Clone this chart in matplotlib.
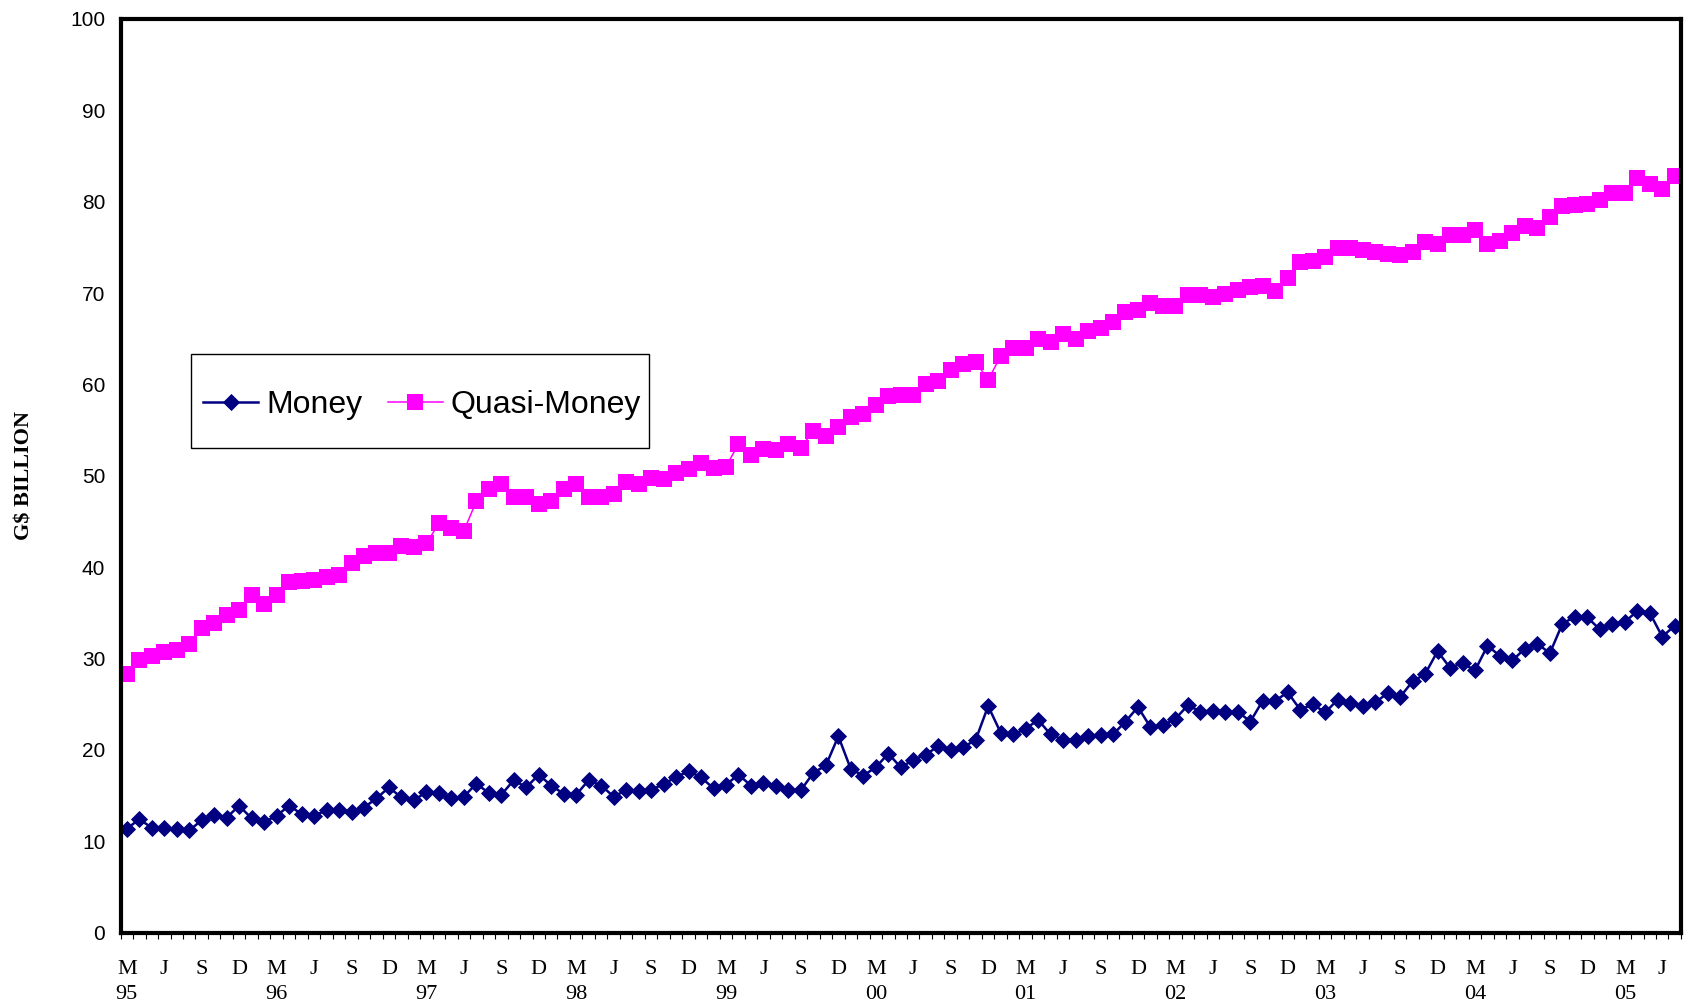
import numpy as np
import pandas as pd
import matplotlib
matplotlib.use("Agg")
import matplotlib.pyplot as plt
import matplotlib.patches as patches

#monthly data, March 1995 to July 2005 (G$ billion)
months = pd.period_range("1995-03", "2005-07", freq="M")

money = [11.4, 12.4, 11.5, 11.5, 11.3, 11.2, 12.3, 12.9, 12.6, 13.9,
         12.5, 12.1, 12.8, 13.9, 13.0, 12.8, 13.4, 13.4, 13.2, 13.7, 14.7, 15.9,
         14.8, 14.5, 15.4, 15.3, 14.7, 14.9, 16.3, 15.3, 15.1, 16.7, 15.9, 17.3,
         16.1, 15.2, 15.1, 16.7, 16.1, 14.9, 15.6, 15.5, 15.6, 16.3, 17.0, 17.7,
         17.0, 15.8, 16.2, 17.3, 16.1, 16.4, 16.1, 15.6, 15.6, 17.5, 18.3, 21.5,
         17.9, 17.2, 18.1, 19.6, 18.1, 18.9, 19.5, 20.4, 20.0, 20.3, 21.1, 24.8,
         21.9, 21.7, 22.3, 23.3, 21.7, 21.1, 21.1, 21.5, 21.6, 21.7, 23.1, 24.7,
         22.5, 22.7, 23.4, 24.9, 24.2, 24.3, 24.2, 24.2, 23.1, 25.4, 25.4, 26.3,
         24.4, 25.0, 24.1, 25.5, 25.1, 24.8, 25.2, 26.2, 25.8, 27.5, 28.3, 30.8,
         29.0, 29.5, 28.7, 31.4, 30.3, 29.8, 31.1, 31.6, 30.6, 33.8, 34.6, 34.5,
         33.2, 33.8, 34.0, 35.2, 35.0, 32.4, 33.6]

quasi_money = [28.3, 29.8, 30.3, 30.7, 30.9, 31.6, 33.3, 33.9, 34.8, 35.3,
               37.0, 36.0, 37.0, 38.4, 38.5, 38.6, 38.9, 39.1, 40.5, 41.2, 41.5, 41.5,
               42.3, 42.2, 42.6, 44.8, 44.3, 44.0, 47.2, 48.6, 49.1, 47.7, 47.7, 46.9,
               47.2, 48.6, 49.1, 47.7, 47.7, 48.0, 49.3, 49.1, 49.8, 49.6, 50.3, 50.8,
               51.4, 50.9, 51.0, 53.5, 52.3, 52.9, 52.8, 53.5, 53.1, 54.9, 54.4, 55.3,
               56.4, 56.8, 57.8, 58.7, 58.9, 58.9, 60.0, 60.4, 61.6, 62.2, 62.5, 60.5,
               63.1, 64.0, 64.0, 65.0, 64.6, 65.5, 65.0, 65.9, 66.2, 66.8, 67.9, 68.2,
               68.9, 68.6, 68.6, 69.8, 69.8, 69.6, 69.9, 70.3, 70.7, 70.8, 70.2, 71.7,
               73.4, 73.5, 73.9, 74.9, 74.95, 74.7, 74.5, 74.3, 74.2, 74.5, 75.6, 75.4,
               76.4, 76.4, 76.9, 75.4, 75.7, 76.6, 77.3, 77.1, 78.3, 79.5, 79.6, 79.8,
               80.2, 81.0, 80.9, 82.6, 81.9, 81.4, 82.8]

#quarter letters shown under the axis
quarter_letters = {3: "M", 6: "J", 9: "S", 12: "D"}

yticks = list(range(0, 101, 10))

SERIF = ["Liberation Serif", "DejaVu Serif"]
SANS = ["Liberation Sans", "DejaVu Sans"]

fig = plt.figure(figsize=(16.84, 10.08), dpi=100)
ax = fig.add_axes([0.0716, 0.0747, 0.9266, 0.9065])

x = np.arange(len(months))
ax.plot(x, money, color="#000080", lw=1.8, marker="D", ms=8.5,
        mec="#000080", mew=0.6, label="Money")
ax.plot(x, quasi_money, color="#FF00FF", lw=1.1, marker="s", ms=11,
        mec="#FF00FF", mew=0, label="Quasi-Money")

ax.set_xlim(-0.5, len(months) - 0.5)
ax.set_ylim(0, 100)

#labels at every quarter, year under March
tick_pos = []
tick_lab = []
for i, p in enumerate(months):
    if p.month in quarter_letters:
        tick_pos.append(i)
        if p.month == 3:
            tick_lab.append("M\n%02d" % (p.year % 100))
        else:
            tick_lab.append(quarter_letters[p.month])
ax.set_xticks(tick_pos)
ax.set_xticklabels(tick_lab, fontfamily=SERIF, fontsize=16, linespacing=1.45)
ax.set_xticks(np.arange(-0.5, len(months), 1.0), minor=True)
ax.tick_params(axis="x", which="major", length=0, pad=19.5)
ax.tick_params(axis="x", which="minor", length=4, width=0.8, direction="out")

ax.set_yticks(yticks)
ax.set_yticklabels([str(v) for v in yticks], fontfamily=SANS, fontsize=15)
ax.tick_params(axis="y", length=0, pad=11)

for s in ax.spines.values():
    s.set_linewidth(3.0)
    s.set_color("black")

fig.text(24.5 / 1684, 1 - 476 / 1008, "G$ BILLION", rotation=90, ha="center",
         va="center", fontfamily=SERIF, fontsize=16, fontweight="bold")

#legend without its own frame, box drawn by hand
leg = ax.legend(loc="center", bbox_to_anchor=(422 / 1684, 1 - 405 / 1008),
                bbox_transform=fig.transFigure, ncol=2, frameon=False,
                handlelength=1.72, handletextpad=0.25, columnspacing=0.8,
                prop={"family": SANS, "size": 23})
box = patches.Rectangle((191 / 1684, 1 - 448 / 1008), (649 - 191) / 1684,
                        (448 - 354) / 1008, transform=fig.transFigure,
                        fill=False, edgecolor="black", lw=1.0)
fig.add_artist(box)

fig.savefig("out.png", dpi=100)
